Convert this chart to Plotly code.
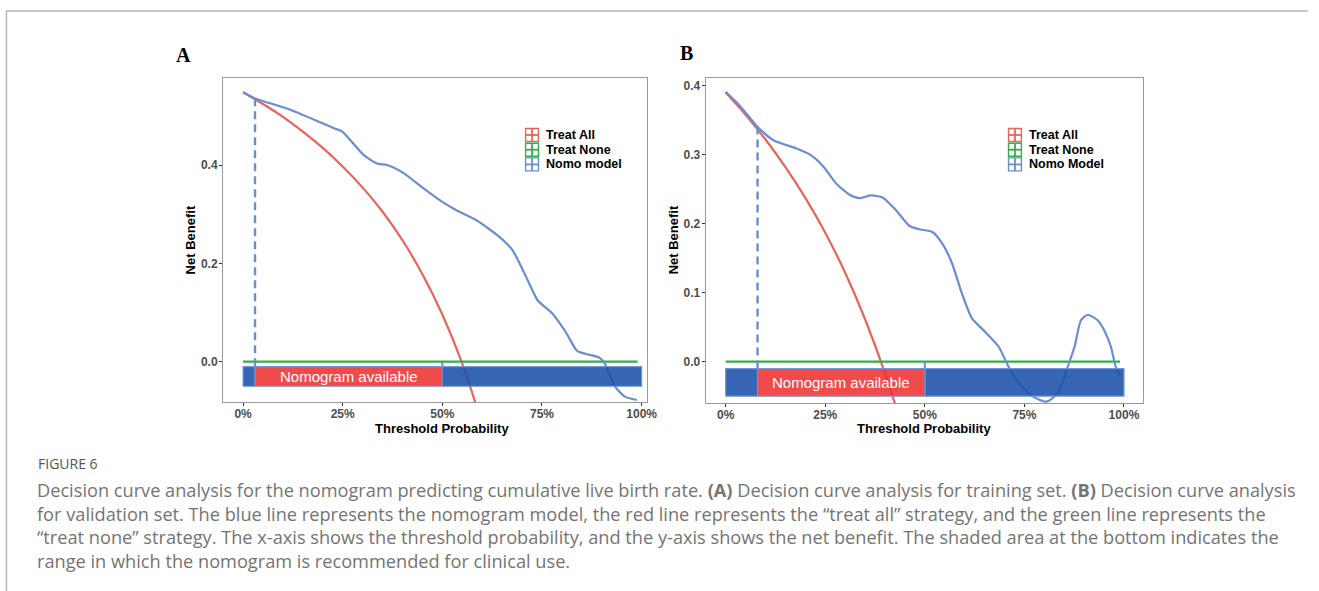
import plotly.graph_objects as go

W, H = 1319, 591

# ---------------- data ----------------
# Panel A (training set)
a_all_x = [0.0, 0.05, 0.10, 0.15, 0.20, 0.25, 0.30, 0.35, 0.40, 0.45, 0.50, 0.55, 0.60, 0.65]
a_all_y = [0.548, 0.524, 0.498, 0.468, 0.435, 0.397, 0.354, 0.305, 0.247, 0.178, 0.096, -0.004, -0.130, -0.29]
a_none_x = [0.0, 0.99]
a_none_y = [0.0, 0.0]
a_nomo_x = [0.0, 0.029, 0.12, 0.228, 0.249, 0.303, 0.336, 0.361, 0.402, 0.452, 0.50, 0.535, 0.585,
            0.643, 0.676, 0.71, 0.739, 0.776, 0.809, 0.838, 0.859, 0.892, 0.905, 0.934, 0.958, 0.988]
a_nomo_y = [0.548, 0.536, 0.512, 0.475, 0.468, 0.420, 0.403, 0.400, 0.384, 0.353, 0.325, 0.308, 0.288,
            0.254, 0.227, 0.173, 0.125, 0.098, 0.061, 0.022, 0.016, 0.009, 0.0, -0.051, -0.071, -0.078]
a_cut = 0.03          # threshold where nomogram becomes useful
a_cut_nb = 0.536
a_avail = [0.03, 0.50]

# Panel B (validation set)
b_all_x = [0.0, 0.05, 0.10, 0.15, 0.20, 0.25, 0.30, 0.35, 0.40, 0.45, 0.50]
b_all_y = [0.390, 0.358, 0.322, 0.282, 0.2375, 0.187, 0.129, 0.0615, -0.017, -0.109, -0.22]
b_none_x = [0.0, 0.99]
b_none_y = [0.0, 0.0]
b_nomo_x = [0.0, 0.037, 0.079, 0.12, 0.178, 0.212, 0.245, 0.278, 0.311, 0.336, 0.365, 0.394, 0.427,
            0.461, 0.485, 0.519, 0.544, 0.568, 0.593, 0.618, 0.651, 0.685, 0.71, 0.735, 0.77, 0.805,
            0.835, 0.859, 0.876, 0.892, 0.909, 0.934, 0.95, 0.967, 0.979, 0.99]
b_nomo_y = [0.391, 0.370, 0.341, 0.321, 0.309, 0.300, 0.283, 0.258, 0.242, 0.237, 0.241, 0.238, 0.220,
            0.197, 0.192, 0.188, 0.171, 0.143, 0.099, 0.063, 0.0435, 0.022, -0.007, -0.03, -0.05, -0.058,
            -0.045, -0.007, 0.022, 0.060, 0.068, 0.060, 0.046, 0.022, -0.007, -0.02]
b_cut = 0.08
b_cut_nb = 0.341
b_avail = [0.08, 0.50]

bar_y = [-0.05, -0.01]     # net-benefit band of the "available" bar
bar_x = [0.0, 1.0]

x_ticks = [0, 0.25, 0.5, 0.75, 1.0]
x_ticktext = ["0%", "25%", "50%", "75%", "100%"]
a_yticks = [0.0, 0.2, 0.4]
a_yticktext = ["0.0", "0.2", "0.4"]
b_yticks = [0.0, 0.1, 0.2, 0.3, 0.4]
b_yticktext = ["0.0", "0.1", "0.2", "0.3", "0.4"]

legend_a = ["Treat All", "Treat None", "Nomo model"]
legend_b = ["Treat All", "Treat None", "Nomo Model"]

caption_title = "FIGURE 6"
caption_lines = [
    "Decision curve analysis for the nomogram predicting cumulative live birth rate. <b>(A)</b> Decision curve analysis for training set. <b>(B)</b> Decision curve analysis",
    "for validation set. The blue line represents the nomogram model, the red line represents the \u201ctreat all\u201d strategy, and the green line represents the",
    "\u201ctreat none\u201d strategy. The x-axis shows the threshold probability, and the y-axis shows the net benefit. The shaded area at the bottom indicates the",
    "range in which the nomogram is recommended for clinical use.",
]

# ---------------- styles ----------------
RED = "#E8645B"
GREEN = "#33AE48"
BLUE = "#6A8ECE"
RECT_BLUE = "rgba(25,80,168,0.88)"
RECT_RED = "rgba(238,50,50,0.88)"
RECT_EDGE = "#7395D3"
TICKFONT = dict(family="Liberation Sans", size=12, color="#4d4d4d", weight="bold")
TITLEFONT = dict(family="Liberation Sans", size=13, color="#000000", weight="bold")
LEGFONT = dict(family="Liberation Sans", size=12.5, color="#000000", weight="bold")

fig = go.Figure()


def px(x):
    return x / W


def py(y):
    return 1 - y / H


def add_panel(xa, ya, all_x, all_y, none_x, none_y, nomo_x, nomo_y, names, cut, cut_nb, avail,
              leg_left, leg_top, ytitle_x, xtitle_cx):
    common = dict(xaxis=xa, yaxis=ya, hoverinfo="skip", showlegend=False)
    fig.add_trace(go.Scatter(x=all_x, y=all_y, mode="lines", name=names[0],
                             line=dict(color=RED, width=2.2, shape="spline", smoothing=0.6), **common))
    fig.add_trace(go.Scatter(x=none_x, y=none_y, mode="lines", name=names[1],
                             line=dict(color=GREEN, width=2.2), **common))
    fig.add_trace(go.Scatter(x=nomo_x, y=nomo_y, mode="lines", name=names[2],
                             line=dict(color=BLUE, width=2.2, shape="spline", smoothing=0.6), **common))
    fig.add_trace(go.Scatter(x=[cut, cut], y=[cut_nb, bar_y[1]], mode="lines",
                             line=dict(color=BLUE, width=2.4, dash="8px,5px"), **common))
    fig.add_trace(go.Scatter(x=[avail[1], avail[1]], y=[0.0, bar_y[1]], mode="lines",
                             line=dict(color=BLUE, width=2), **common))
    # shaded availability bar, drawn after the curves (semi-transparent)
    for x0, x1, col in [(bar_x[0], avail[0], RECT_BLUE), (avail[1], bar_x[1], RECT_BLUE),
                        (avail[0], avail[1], RECT_RED)]:
        fig.add_trace(go.Scatter(x=[x0, x1, x1, x0, x0], y=[bar_y[0], bar_y[0], bar_y[1], bar_y[1], bar_y[0]],
                                 mode="lines", fill="toself", fillcolor=col,
                                 line=dict(color=RECT_EDGE, width=1.2), **common))
    fig.add_annotation(xref=xa, yref=ya, x=(avail[0] + avail[1]) / 2, y=(bar_y[0] + bar_y[1]) / 2,
                       text="Nomogram available", showarrow=False, xanchor="center", yanchor="middle",
                       font=dict(family="Liberation Sans", size=15, color="white"))
    # legend (ggplot style keys: boxed cross)
    for i, (nm, col) in enumerate(zip(names, [RED, GREEN, BLUE])):
        cy = leg_top + 14.7 * i
        s = 6.5
        fig.add_shape(type="rect", xref="paper", yref="paper", x0=px(leg_left), x1=px(leg_left + 2 * s),
                      y0=py(cy - s), y1=py(cy + s), line=dict(color=col, width=1.4), fillcolor="white")
        fig.add_shape(type="line", xref="paper", yref="paper", x0=px(leg_left + s), x1=px(leg_left + s),
                      y0=py(cy - s), y1=py(cy + s), line=dict(color=col, width=1.8))
        fig.add_shape(type="line", xref="paper", yref="paper", x0=px(leg_left), x1=px(leg_left + 2 * s),
                      y0=py(cy), y1=py(cy), line=dict(color=col, width=1.8))
        fig.add_annotation(xref="paper", yref="paper", x=px(leg_left + 19), y=py(cy), text=nm,
                           showarrow=False, xanchor="left", yanchor="middle", font=LEGFONT)
    # axis titles
    fig.add_annotation(xref="paper", yref="paper", x=px(ytitle_x), y=py(240), text="Net Benefit",
                       textangle=-90, showarrow=False, xanchor="center", yanchor="middle", font=TITLEFONT)
    fig.add_annotation(xref="paper", yref="paper", x=px(xtitle_cx), y=py(428), text="Threshold Probability",
                       showarrow=False, xanchor="center", yanchor="middle", font=TITLEFONT)


add_panel("x", "y", a_all_x, a_all_y, a_none_x, a_none_y, a_nomo_x, a_nomo_y, legend_a,
          a_cut, a_cut_nb, a_avail, 530, 135, 192, 446)
add_panel("x2", "y2", b_all_x, b_all_y, b_none_x, b_none_y, b_nomo_x, b_nomo_y, legend_b,
          b_cut, b_cut_nb, b_avail, 1017, 135, 679, 932)

axis_common = dict(showline=True, linecolor="#9a9a9a", linewidth=1.2, mirror=True, showgrid=False,
                   zeroline=False, ticks="outside", ticklen=3, tickcolor="#333333", tickwidth=1,
                   tickfont=TICKFONT)
xaxis_extra = dict(ticklabelstandoff=-3)
yaxis_extra = dict(ticklabelstandoff=-1)

fig.update_layout(
    width=W, height=H, margin=dict(l=0, r=0, t=0, b=0), showlegend=False,
    paper_bgcolor="white", plot_bgcolor="white",
    xaxis=dict(domain=[225 / W, 652 / W], range=[-0.05, 1.0124], anchor="y", tickvals=x_ticks,
               ticktext=x_ticktext, **axis_common, **xaxis_extra),
    yaxis=dict(domain=[1 - 402 / H, 1 - 78 / H], range=[-0.082, 0.577], anchor="x", tickvals=a_yticks,
               ticktext=a_yticktext, **axis_common, **yaxis_extra),
    xaxis2=dict(domain=[711.7 / W, 1152.7 / W], range=[-0.05, 1.048], anchor="y2", tickvals=x_ticks,
                ticktext=x_ticktext, **axis_common, **xaxis_extra),
    yaxis2=dict(domain=[1 - 403 / H, 1 - 77.7 / H], range=[-0.0599, 0.4116], anchor="x2", tickvals=b_yticks,
                ticktext=b_yticktext, **axis_common, **yaxis_extra),
)

# panel letters
fig.add_annotation(xref="paper", yref="paper", x=px(185), y=py(55), text="<b>A</b>", showarrow=False,
                   xanchor="center", yanchor="middle", font=dict(family="Liberation Serif", size=20, color="black"))
fig.add_annotation(xref="paper", yref="paper", x=px(692), y=py(53), text="<b>B</b>", showarrow=False,
                   xanchor="center", yanchor="middle", font=dict(family="Liberation Serif", size=20, color="black"))

# page frame lines
fig.add_shape(type="line", xref="paper", yref="paper", x0=px(6), x1=1, y0=py(11), y1=py(11),
              line=dict(color="#b5b5b5", width=1.5))
fig.add_shape(type="line", xref="paper", yref="paper", x0=px(6.5), x1=px(6.5), y0=0, y1=py(11),
              line=dict(color="#b5b5b5", width=1.5))

# caption
fig.add_annotation(xref="paper", yref="paper", x=px(36), y=py(463), text=caption_title, showarrow=False,
                   xanchor="left", yanchor="middle", font=dict(family="Open Sans", size=14, color="#555555"))
for i, line in enumerate(caption_lines):
    fig.add_annotation(xref="paper", yref="paper", x=px(35), y=py(490 + 23.7 * i), text=line,
                       showarrow=False, xanchor="left", yanchor="middle",
                       font=dict(family="Open Sans", size=18.2, color="#747474"))

fig.write_html("out.html")
